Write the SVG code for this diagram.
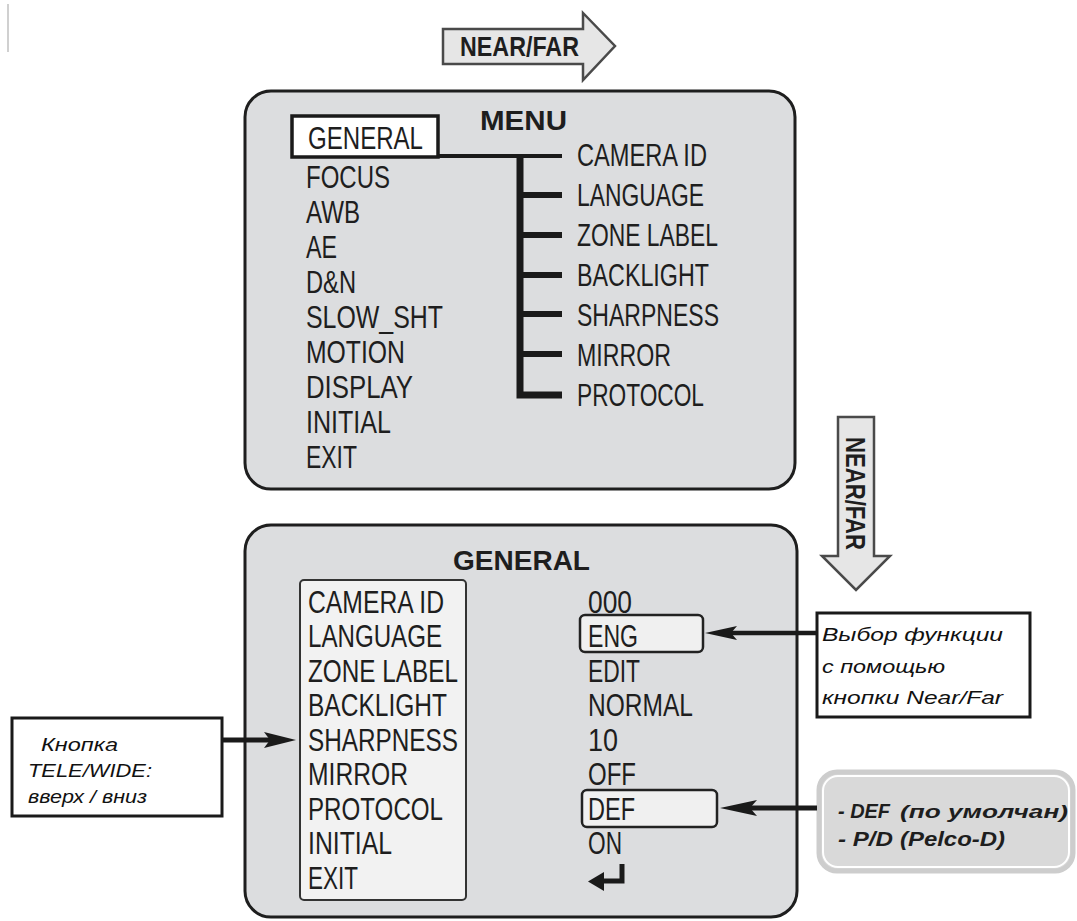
<svg xmlns="http://www.w3.org/2000/svg" width="1077" height="921" viewBox="0 0 1077 921">
<style>
.panel{fill:#dcdddf;stroke:#1e1e1e;stroke-width:3}
.t{font-family:"Liberation Sans",Arial,sans-serif;font-size:31px;fill:#1e1e1e}
.h{font-family:"Liberation Sans",Arial,sans-serif;font-weight:bold;font-size:28px;fill:#1e1e1e}
.big{font-family:"Liberation Sans",Arial,sans-serif;font-size:32px;fill:#1e1e1e}
.arr{fill:#e6e6e6;stroke:#4a4a4a;stroke-width:2.5;stroke-linejoin:miter}
.note{font-family:"Liberation Sans",Arial,sans-serif;font-style:italic;font-size:19px;fill:#111}
.tree{fill:none;stroke:#1a1a1a;stroke-linejoin:miter;stroke-linecap:butt}
.conn{stroke:#1a1a1a;fill:none}
.head{fill:#1a1a1a}
.def{font-family:"Liberation Sans",Arial,sans-serif;font-style:italic;font-weight:bold;fill:#1e1e1e}
</style>
<rect width="1077" height="921" fill="#ffffff"/>
<line x1="8" y1="4" x2="8" y2="52" stroke="#d0d0d0" stroke-width="2"/>

<g id="arrow-top">
<polygon class="arr" points="443,29 583,29 583,13 615,46 583,80 583,64 443,64"/>
<text class="h" x="460" y="56" textLength="119" lengthAdjust="spacingAndGlyphs">NEAR/FAR</text>
</g>

<g id="arrow-down">
<polygon class="arr" points="838,417 874,417 874,556 890,556 856,590 822,556 838,556"/>
<text class="h" transform="translate(846,437) rotate(90)" x="0" y="0" textLength="113" lengthAdjust="spacingAndGlyphs">NEAR/FAR</text>
</g>

<g id="menu-panel">
<rect class="panel" x="245" y="91" width="550" height="398" rx="26"/>
<text class="h" x="480" y="130" font-size="29" textLength="87" lengthAdjust="spacingAndGlyphs">MENU</text>
<rect x="292" y="116" width="146" height="41" fill="#ffffff" stroke="#1a1a1a" stroke-width="3.5"/>
<text class="t" x="308" y="149" textLength="115" lengthAdjust="spacingAndGlyphs">GENERAL</text>
<text class="t" x="306" y="188" textLength="84" lengthAdjust="spacingAndGlyphs">FOCUS</text>
<text class="t" x="306" y="223" textLength="54" lengthAdjust="spacingAndGlyphs">AWB</text>
<text class="t" x="306" y="258" textLength="31" lengthAdjust="spacingAndGlyphs">AE</text>
<text class="t" x="306" y="293" textLength="50" lengthAdjust="spacingAndGlyphs">D&amp;N</text>
<text class="t" x="306" y="328" textLength="137" lengthAdjust="spacingAndGlyphs">SLOW_SHT</text>
<text class="t" x="306" y="363" textLength="99" lengthAdjust="spacingAndGlyphs">MOTION</text>
<text class="t" x="306" y="398" textLength="107" lengthAdjust="spacingAndGlyphs">DISPLAY</text>
<text class="t" x="306" y="433" textLength="85" lengthAdjust="spacingAndGlyphs">INITIAL</text>
<text class="t" x="306" y="468" textLength="51" lengthAdjust="spacingAndGlyphs">EXIT</text>
<text class="t" x="577" y="166" textLength="130" lengthAdjust="spacingAndGlyphs">CAMERA ID</text>
<text class="t" x="577" y="206" textLength="127" lengthAdjust="spacingAndGlyphs">LANGUAGE</text>
<text class="t" x="577" y="246" textLength="141" lengthAdjust="spacingAndGlyphs">ZONE LABEL</text>
<text class="t" x="577" y="286" textLength="132" lengthAdjust="spacingAndGlyphs">BACKLIGHT</text>
<text class="t" x="577" y="326" textLength="142" lengthAdjust="spacingAndGlyphs">SHARPNESS</text>
<text class="t" x="577" y="366" textLength="94" lengthAdjust="spacingAndGlyphs">MIRROR</text>
<text class="t" x="577" y="406" textLength="127" lengthAdjust="spacingAndGlyphs">PROTOCOL</text>
</g>

<g id="general-panel">
<rect class="panel" x="245" y="525" width="552" height="392" rx="26"/>
<text class="h" x="453" y="570" font-size="30" textLength="137" lengthAdjust="spacingAndGlyphs">GENERAL</text>
<rect x="300" y="580" width="166" height="320" rx="4" fill="#f2f2f2" stroke="#333" stroke-width="2"/>
<text class="big" x="308" y="613" textLength="136" lengthAdjust="spacingAndGlyphs">CAMERA ID</text>
<text class="big" x="308" y="647" textLength="134" lengthAdjust="spacingAndGlyphs">LANGUAGE</text>
<text class="big" x="308" y="682" textLength="150" lengthAdjust="spacingAndGlyphs">ZONE LABEL</text>
<text class="big" x="308" y="716" textLength="139" lengthAdjust="spacingAndGlyphs">BACKLIGHT</text>
<text class="big" x="308" y="751" textLength="150" lengthAdjust="spacingAndGlyphs">SHARPNESS</text>
<text class="big" x="308" y="785" textLength="100" lengthAdjust="spacingAndGlyphs">MIRROR</text>
<text class="big" x="308" y="820" textLength="135" lengthAdjust="spacingAndGlyphs">PROTOCOL</text>
<text class="big" x="308" y="854" textLength="84" lengthAdjust="spacingAndGlyphs">INITIAL</text>
<text class="big" x="308" y="889" textLength="50" lengthAdjust="spacingAndGlyphs">EXIT</text>
<rect x="580" y="615" width="123" height="37" rx="5" fill="#f0f0f0" stroke="#222" stroke-width="2.5"/>
<rect x="582" y="790" width="135" height="37" rx="5" fill="#f0f0f0" stroke="#222" stroke-width="2.5"/>
<text class="big" x="588" y="613" textLength="44" lengthAdjust="spacingAndGlyphs">000</text>
<text class="big" x="588" y="647" textLength="50" lengthAdjust="spacingAndGlyphs">ENG</text>
<text class="big" x="588" y="682" textLength="52" lengthAdjust="spacingAndGlyphs">EDIT</text>
<text class="big" x="588" y="716" textLength="105" lengthAdjust="spacingAndGlyphs">NORMAL</text>
<text class="big" x="588" y="751" textLength="30" lengthAdjust="spacingAndGlyphs">10</text>
<text class="big" x="588" y="785" textLength="48" lengthAdjust="spacingAndGlyphs">OFF</text>
<text class="big" x="588" y="820" textLength="47" lengthAdjust="spacingAndGlyphs">DEF</text>
<text class="big" x="588" y="854" textLength="34" lengthAdjust="spacingAndGlyphs">ON</text>
<path d="M622,864 V881 H602" fill="none" stroke="#1a1a1a" stroke-width="5"/>
<polygon class="head" points="588,881.5 604,872 604,891"/>
</g>

<g id="note-telewide">
<rect x="12" y="718" width="210" height="98" fill="#ffffff" stroke="#1a1a1a" stroke-width="3"/>
<text class="note" x="41" y="751" textLength="77" lengthAdjust="spacingAndGlyphs">Кнопка</text>
<text class="note" x="28" y="777" textLength="124" lengthAdjust="spacingAndGlyphs">TELE/WIDE:</text>
<text class="note" x="28" y="803" textLength="119" lengthAdjust="spacingAndGlyphs">вверх / вниз</text>
</g>

<g id="note-nearfar">
<rect x="817" y="613" width="213" height="104" fill="#ffffff" stroke="#1a1a1a" stroke-width="3"/>
<text class="note" x="822" y="641" textLength="181" lengthAdjust="spacingAndGlyphs">Выбор функции</text>
<text class="note" x="822" y="673" textLength="123" lengthAdjust="spacingAndGlyphs">с помощью</text>
<text class="note" x="822" y="704" textLength="181" lengthAdjust="spacingAndGlyphs">кнопки Near/Far</text>
</g>

<g id="note-protocol">
<rect x="819" y="772" width="254" height="99" rx="18" fill="#d9d9d9" stroke="#cdcdcd" stroke-width="5"/>
<rect x="823" y="776" width="246" height="91" rx="15" fill="none" stroke="#ffffff" stroke-width="2"/>
<text class="def" x="838" y="818" font-size="21" textLength="52" lengthAdjust="spacingAndGlyphs">- DEF</text>
<text class="def" x="900" y="818" font-size="18" font-style="normal" textLength="168" lengthAdjust="spacingAndGlyphs">(по умолчан)</text>
<text class="def" x="838" y="846" font-size="21" textLength="55" lengthAdjust="spacingAndGlyphs">- P/D</text>
<text class="def" x="900" y="846" font-size="21" font-weight="normal" textLength="105" lengthAdjust="spacingAndGlyphs">(Pelco-D)</text>
</g>

<g id="connectors">
<line class="tree" x1="438" y1="156" x2="562" y2="156" stroke-width="4"/>
<path class="tree" d="M520,154 V395 H562" stroke-width="7"/>
<line class="tree" x1="520" y1="195" x2="562" y2="195" stroke-width="6"/>
<line class="tree" x1="520" y1="235" x2="562" y2="235" stroke-width="6"/>
<line class="tree" x1="520" y1="275" x2="562" y2="275" stroke-width="6"/>
<line class="tree" x1="520" y1="314" x2="562" y2="314" stroke-width="6"/>
<line class="tree" x1="520" y1="354" x2="562" y2="354" stroke-width="6"/>
<line class="conn" x1="730" y1="633" x2="817" y2="633" stroke-width="4.5"/>
<polygon class="head" points="705,633 737,626 731,633 737,640"/>
<line class="conn" x1="750" y1="808" x2="817" y2="808" stroke-width="5"/>
<polygon class="head" points="720,808 757,800 750,808 757,816"/>
<line class="conn" x1="222" y1="740" x2="272" y2="740" stroke-width="5"/>
<polygon class="head" points="296,740 264,732 270,740 264,748"/>
</g>
</svg>
